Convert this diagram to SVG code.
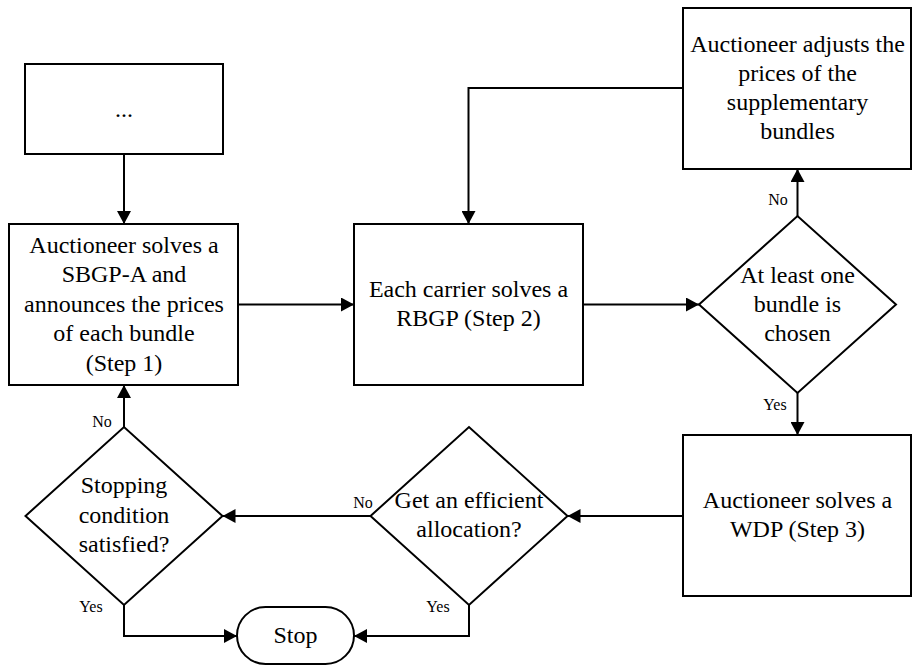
<svg xmlns="http://www.w3.org/2000/svg" width="912" height="666" viewBox="0 0 912 666">
<defs>
<marker id="ah" viewBox="0 0 13 14" refX="13" refY="7" markerWidth="13" markerHeight="14" markerUnits="userSpaceOnUse" orient="auto">
<path d="M0,0 L13,7 L0,14 Z" fill="#000"/>
</marker>
</defs>
<style>
.s{fill:#fff;stroke:#000;stroke-width:2}
.t{font-family:"Liberation Serif","Times New Roman",serif;font-size:24px;fill:#000;text-anchor:middle}
.l{font-family:"Liberation Serif","Times New Roman",serif;font-size:16px;fill:#000;text-anchor:middle}
.c{fill:none;stroke:#000;stroke-width:2;marker-end:url(#ah)}
</style>
<rect width="912" height="666" fill="#fff"/>
<g id="connectors">
<path class="c" d="M124,154 V224"/>
<path class="c" d="M238,304.5 H354"/>
<path class="c" d="M583,304.5 H699"/>
<path class="c" d="M797.5,216 V169"/>
<path class="c" d="M683,88 H468.5 V224"/>
<path class="c" d="M797.5,393 V435"/>
<path class="c" d="M683,516 H567.5"/>
<path class="c" d="M370.5,516 H222.5"/>
<path class="c" d="M124,427 V385"/>
<path class="c" d="M124,605 V636 H237"/>
<path class="c" d="M469,605 V636 H354"/>
<text class="l" x="778" y="205">No</text>
<text class="l" x="775" y="410">Yes</text>
<text class="l" x="363" y="508">No</text>
<text class="l" x="102" y="427">No</text>
<text class="l" x="91" y="612">Yes</text>
<text class="l" x="438" y="612">Yes</text>
</g>
<g id="start">
<rect class="s" x="25" y="64" width="198" height="90"/>
<text class="t" x="124" y="117">...</text>
</g>
<g id="step1">
<rect class="s" x="9" y="224" width="229" height="161"/>
<text class="t" x="124" y="253">Auctioneer solves a</text>
<text class="t" x="124" y="282">SBGP-A and</text>
<text class="t" x="124" y="312">announces the prices</text>
<text class="t" x="124" y="341">of each bundle</text>
<text class="t" x="124" y="371">(Step 1)</text>
</g>
<g id="step2">
<rect class="s" x="354" y="224" width="229" height="161"/>
<text class="t" x="468.5" y="297">Each carrier solves a</text>
<text class="t" x="468.5" y="326">RBGP (Step 2)</text>
</g>
<g id="decision1">
<path class="s" d="M699,304.5 L797.5,216 L896,304.5 L797.5,393 Z"/>
<text class="t" x="797.5" y="283">At least one</text>
<text class="t" x="797.5" y="312">bundle is</text>
<text class="t" x="797.5" y="341">chosen</text>
</g>
<g id="adjust">
<rect class="s" x="683" y="8" width="228" height="161"/>
<text class="t" x="797.5" y="52">Auctioneer adjusts the</text>
<text class="t" x="797.5" y="81">prices of the</text>
<text class="t" x="797.5" y="110">supplementary</text>
<text class="t" x="797.5" y="139">bundles</text>
</g>
<g id="step3">
<rect class="s" x="683" y="435" width="228" height="161"/>
<text class="t" x="797.5" y="508">Auctioneer solves a</text>
<text class="t" x="797.5" y="537">WDP (Step 3)</text>
</g>
<g id="decision2">
<path class="s" d="M370.5,516 L469,427 L567.5,516 L469,605 Z"/>
<text class="t" x="469" y="508">Get an efficient</text>
<text class="t" x="469" y="537">allocation?</text>
</g>
<g id="decision3">
<path class="s" d="M25.5,516 L124,427 L222.5,516 L124,605 Z"/>
<text class="t" x="124" y="493">Stopping</text>
<text class="t" x="124" y="523">condition</text>
<text class="t" x="124" y="552">satisfied?</text>
</g>
<g id="stop">
<rect class="s" x="237" y="607" width="117" height="57" rx="28.5"/>
<text class="t" x="295.5" y="643">Stop</text>
</g>
</svg>
